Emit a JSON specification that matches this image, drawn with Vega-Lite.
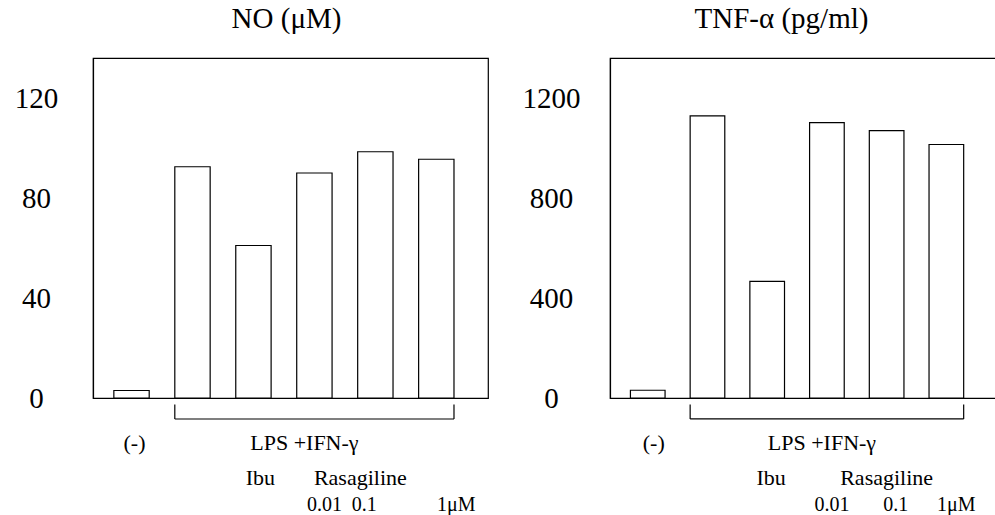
{
  "$schema": "https://vega.github.io/schema/vega-lite/v6.json",
  "background": "white",
  "padding": {"left": 13, "top": 4, "right": 0, "bottom": 0},
  "config": {
    "view": {"stroke": "black", "strokeWidth": 1.2},
    "font": "Liberation Serif",
    "concat": {"spacing": 32},
    "title": {"font": "Liberation Serif", "fontSize": 29, "fontWeight": "normal", "color": "black", "baseline": "alphabetic", "offset": 24},
    "axis": {"grid": false, "title": null, "labelFont": "Liberation Serif", "labelFontSize": 29, "labelColor": "black", "domainColor": "black", "domainWidth": 1.2, "ticks": false, "labelAlign": "center", "labelBaseline": "middle", "format": "d"},
    "text": {"font": "Liberation Serif", "fontSize": 22, "color": "black", "baseline": "middle"},
    "rule": {"color": "black", "strokeWidth": 1.2}
  },
  "datasets": {
    "no": [
      {"g": "ctrl", "v": 3},
      {"g": "lps", "v": 92.5},
      {"g": "ibu", "v": 61},
      {"g": "r001", "v": 90},
      {"g": "r01", "v": 98.5},
      {"g": "r1", "v": 95.5}
    ],
    "tnf": [
      {"g": "ctrl", "v": 31},
      {"g": "lps", "v": 1132},
      {"g": "ibu", "v": 468},
      {"g": "r001", "v": 1105},
      {"g": "r01", "v": 1073},
      {"g": "r1", "v": 1017}
    ],
    "bracket": [{"from": "lps", "to": "r1"}],
    "labels": [
      {"g": "ctrl", "label": "(-)"},
      {"g": "r001", "label": "LPS +IFN-γ"},
      {"g": "ibu", "label": "Ibu"},
      {"g": "r01", "label": "Rasagiline"},
      {"g": "r001", "label": "0.01"},
      {"g": "r01", "label": "0.1"},
      {"g": "r1", "label": "1μM"}
    ]
  },
  "hconcat": [
    {
      "width": 395,
      "height": 340,
      "title": {"text": "NO (μM)", "dx": -4},
      "encoding": {
        "x": {"field": "g", "type": "nominal", "axis": null, "scale": {"domain": ["ctrl", "lps", "ibu", "r001", "r01", "r1"], "paddingInner": 0.42, "paddingOuter": 0.45, "align": 0.38}}
      },
      "layer": [
        {
          "data": {"name": "no"},
          "mark": {"type": "bar", "fill": "white", "stroke": "black", "strokeWidth": 1.2},
          "encoding": {
            "y": {"field": "v", "type": "quantitative", "scale": {"domain": [0, 136], "nice": false}, "axis": {"values": [0, 40, 80, 120], "labelPadding": 57, "title": null}}
          }
        },
        {
          "data": {"name": "bracket"},
          "mark": {"type": "rule"},
          "encoding": {
            "x": {"field": "from", "type": "nominal", "bandPosition": 0},
            "x2": {"field": "to", "bandPosition": 1},
            "y": {"datum": -8.4, "type": "quantitative"}
          }
        },
        {
          "data": {"name": "bracket"},
          "mark": {"type": "rule"},
          "encoding": {
            "x": {"field": "from", "type": "nominal", "bandPosition": 0},
            "y": {"datum": -8.4, "type": "quantitative"},
            "y2": {"datum": -2.6}
          }
        },
        {
          "data": {"name": "bracket"},
          "mark": {"type": "rule"},
          "encoding": {
            "x": {"field": "to", "type": "nominal", "bandPosition": 1},
            "y": {"datum": -8.4, "type": "quantitative"},
            "y2": {"datum": -2.6}
          }
        },
        {
          "data": {"name": "labels"},
          "transform": [{"filter": "datum.label == '(-)'"}],
          "mark": {"type": "text", "dx": 3},
          "encoding": {"text": {"field": "label"}, "y": {"datum": -18, "type": "quantitative"}}
        },
        {
          "data": {"name": "labels"},
          "transform": [{"filter": "datum.label == 'LPS +IFN-γ'"}],
          "mark": {"type": "text", "dx": -10},
          "encoding": {"text": {"field": "label"}, "y": {"datum": -18, "type": "quantitative"}}
        },
        {
          "data": {"name": "labels"},
          "transform": [{"filter": "datum.label == 'Ibu'"}],
          "mark": {"type": "text", "dx": 7},
          "encoding": {"text": {"field": "label"}, "y": {"datum": -32, "type": "quantitative"}}
        },
        {
          "data": {"name": "labels"},
          "transform": [{"filter": "datum.label == 'Rasagiline'"}],
          "mark": {"type": "text", "dx": -15},
          "encoding": {"text": {"field": "label"}, "y": {"datum": -32, "type": "quantitative"}}
        },
        {
          "data": {"name": "labels"},
          "transform": [{"filter": "datum.label == '0.01'"}],
          "mark": {"type": "text", "dx": 10, "fontSize": 20},
          "encoding": {"text": {"field": "label"}, "y": {"datum": -42.8, "type": "quantitative"}}
        },
        {
          "data": {"name": "labels"},
          "transform": [{"filter": "datum.label == '0.1'"}],
          "mark": {"type": "text", "dx": -11, "fontSize": 20},
          "encoding": {"text": {"field": "label"}, "y": {"datum": -42.8, "type": "quantitative"}}
        },
        {
          "data": {"name": "labels"},
          "transform": [{"filter": "datum.label == '1μM'"}],
          "mark": {"type": "text", "dx": 20, "fontSize": 20},
          "encoding": {"text": {"field": "label"}, "y": {"datum": -42.8, "type": "quantitative"}}
        }
      ]
    },
    {
      "width": 387,
      "height": 340,
      "title": {"text": "TNF-α (pg/ml)", "dx": -22},
      "encoding": {
        "x": {"field": "g", "type": "nominal", "axis": null, "scale": {"domain": ["ctrl", "lps", "ibu", "r001", "r01", "r1"], "paddingInner": 0.42, "paddingOuter": 0.45, "align": 0.38}}
      },
      "layer": [
        {
          "data": {"name": "tnf"},
          "mark": {"type": "bar", "fill": "white", "stroke": "black", "strokeWidth": 1.2},
          "encoding": {
            "y": {"field": "v", "type": "quantitative", "scale": {"domain": [0, 1364], "nice": false}, "axis": {"values": [0, 400, 800, 1200], "labelPadding": 59, "title": null}}
          }
        },
        {
          "data": {"name": "bracket"},
          "mark": {"type": "rule"},
          "encoding": {
            "x": {"field": "from", "type": "nominal", "bandPosition": 0},
            "x2": {"field": "to", "bandPosition": 1},
            "y": {"datum": -84, "type": "quantitative"}
          }
        },
        {
          "data": {"name": "bracket"},
          "mark": {"type": "rule"},
          "encoding": {
            "x": {"field": "from", "type": "nominal", "bandPosition": 0},
            "y": {"datum": -84, "type": "quantitative"},
            "y2": {"datum": -26}
          }
        },
        {
          "data": {"name": "bracket"},
          "mark": {"type": "rule"},
          "encoding": {
            "x": {"field": "to", "type": "nominal", "bandPosition": 1},
            "y": {"datum": -84, "type": "quantitative"},
            "y2": {"datum": -26}
          }
        },
        {
          "data": {"name": "labels"},
          "transform": [{"filter": "datum.label == '(-)'"}],
          "mark": {"type": "text", "dx": 6},
          "encoding": {"text": {"field": "label"}, "y": {"datum": -180, "type": "quantitative"}}
        },
        {
          "data": {"name": "labels"},
          "transform": [{"filter": "datum.label == 'LPS +IFN-γ'"}],
          "mark": {"type": "text", "dx": -5},
          "encoding": {"text": {"field": "label"}, "y": {"datum": -180, "type": "quantitative"}}
        },
        {
          "data": {"name": "labels"},
          "transform": [{"filter": "datum.label == 'Ibu'"}],
          "mark": {"type": "text", "dx": 4},
          "encoding": {"text": {"field": "label"}, "y": {"datum": -320, "type": "quantitative"}}
        },
        {
          "data": {"name": "labels"},
          "transform": [{"filter": "datum.label == 'Rasagiline'"}],
          "mark": {"type": "text", "dx": 0},
          "encoding": {"text": {"field": "label"}, "y": {"datum": -320, "type": "quantitative"}}
        },
        {
          "data": {"name": "labels"},
          "transform": [{"filter": "datum.label == '0.01'"}],
          "mark": {"type": "text", "dx": 5, "fontSize": 20},
          "encoding": {"text": {"field": "label"}, "y": {"datum": -428, "type": "quantitative"}}
        },
        {
          "data": {"name": "labels"},
          "transform": [{"filter": "datum.label == '0.1'"}],
          "mark": {"type": "text", "dx": 9, "fontSize": 20},
          "encoding": {"text": {"field": "label"}, "y": {"datum": -428, "type": "quantitative"}}
        },
        {
          "data": {"name": "labels"},
          "transform": [{"filter": "datum.label == '1μM'"}],
          "mark": {"type": "text", "dx": 10, "fontSize": 20},
          "encoding": {"text": {"field": "label"}, "y": {"datum": -428, "type": "quantitative"}}
        }
      ]
    }
  ]
}
